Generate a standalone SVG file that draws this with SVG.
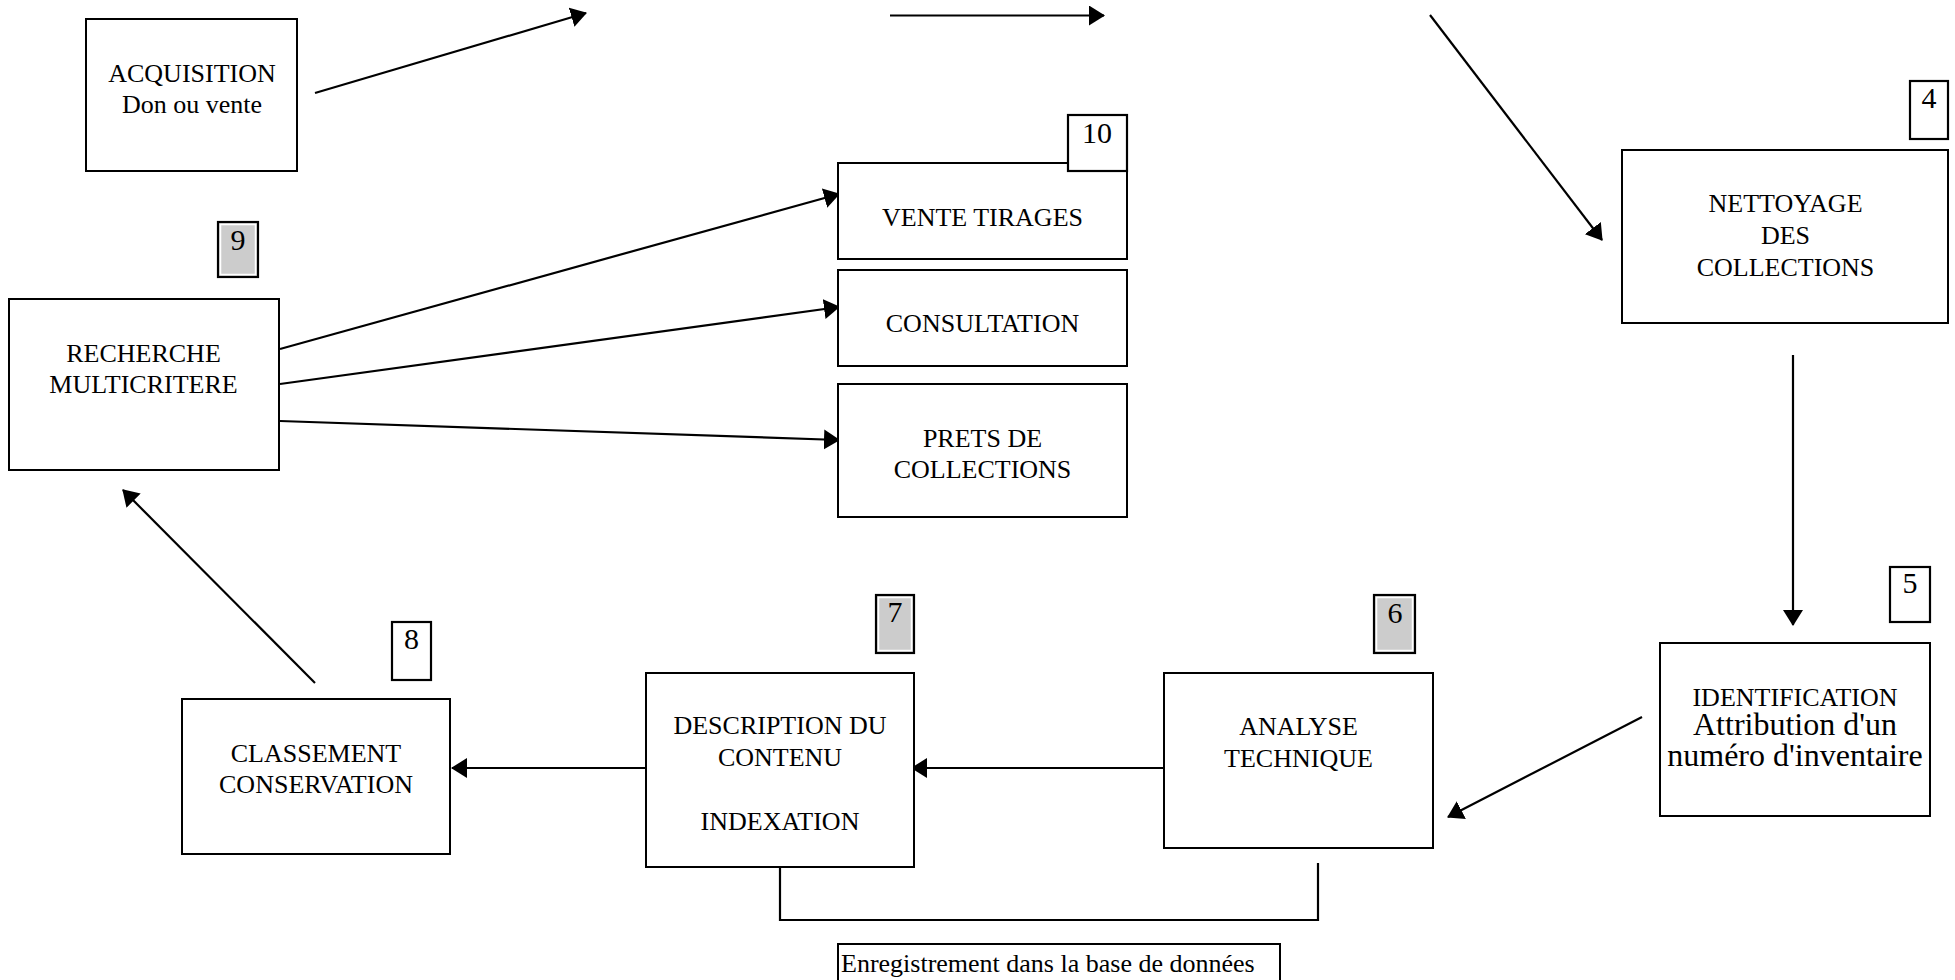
<svg xmlns="http://www.w3.org/2000/svg" width="1955" height="980" viewBox="0 0 1955 980">
  <defs>
    <style>
      .box { fill: #ffffff; stroke: #000000; stroke-width: 2; }
      .tag { fill: #ffffff; stroke: #000000; stroke-width: 2.2; }
      .tag-grey { fill: #cccccc; stroke: #000000; stroke-width: 2.2; }
      .tag-inner { fill: none; stroke: #ffffff; stroke-width: 1.5; }
      .lbl { font-family: "Liberation Serif", "Times New Roman", serif; font-size: 26px; fill: #000000; text-anchor: middle; }
      .big { font-size: 32px; }
      .num { font-family: "Liberation Serif", "Times New Roman", serif; font-size: 30px; fill: #000000; text-anchor: middle; }
      .left { text-anchor: start; }
      .link { fill: none; stroke: #000000; stroke-width: 2.2; }
      .flow { fill: none; stroke: #000000; stroke-width: 2.2; marker-end: url(#arrow); }
    </style>
    <marker id="arrow" markerUnits="userSpaceOnUse" markerWidth="16" markerHeight="20" refX="15" refY="10" orient="auto">
      <path d="M0,0 L16,10 L0,20 z" fill="#000000"/>
    </marker>
  </defs>

  <rect width="1955" height="980" fill="#ffffff"/>

  <!-- connectors -->
  <g id="connectors">
    <line class="flow" x1="315" y1="93" x2="586" y2="13"/>
    <line class="flow" x1="890" y1="15.5" x2="1104" y2="15.5"/>
    <line class="flow" x1="1430" y1="15" x2="1602" y2="240"/>
    <line class="flow" x1="1793" y1="355" x2="1793" y2="625"/>
    <line class="flow" x1="1642" y1="717" x2="1448" y2="817"/>
    <line class="flow" x1="1164" y1="768" x2="912" y2="768"/>
    <line class="flow" x1="646" y1="768" x2="452" y2="768"/>
    <line class="flow" x1="315" y1="683" x2="123" y2="490"/>
    <line class="flow" x1="280" y1="349" x2="839" y2="194"/>
    <line class="flow" x1="280" y1="384" x2="839" y2="307"/>
    <line class="flow" x1="280" y1="421" x2="839" y2="440"/>
    <polyline class="link" points="780,863 780,920 1318,920 1318,863"/>
  </g>

  <!-- 1: acquisition -->
  <g id="acquisition">
    <rect class="box" x="86" y="19" width="211" height="152"/>
    <text class="lbl" x="192" y="82">ACQUISITION</text>
    <text class="lbl" x="192" y="113">Don ou vente</text>
  </g>

  <!-- 4: cleaning -->
  <g id="nettoyage">
    <rect class="box" x="1622" y="150" width="326" height="173"/>
    <text class="lbl" x="1785.5" y="212">NETTOYAGE</text>
    <text class="lbl" x="1785.5" y="244">DES</text>
    <text class="lbl" x="1785.5" y="276">COLLECTIONS</text>
  </g>
  <g id="tag-4">
    <rect class="tag" x="1910" y="81" width="38" height="58"/>
    <text class="num" x="1929" y="108">4</text>
  </g>

  <!-- 5: identification -->
  <g id="identification">
    <rect class="box" x="1660" y="643" width="270" height="173"/>
    <text class="lbl" x="1795" y="706">IDENTIFICATION</text>
    <text class="lbl big" x="1795" y="735">Attribution d'un</text>
    <text class="lbl big" x="1795" y="766">numéro d'inventaire</text>
  </g>
  <g id="tag-5">
    <rect class="tag" x="1890" y="567" width="40" height="55"/>
    <text class="num" x="1910" y="593">5</text>
  </g>

  <!-- 6: technical analysis -->
  <g id="analyse">
    <rect class="box" x="1164" y="673" width="269" height="175"/>
    <text class="lbl" x="1298.5" y="735">ANALYSE</text>
    <text class="lbl" x="1298.5" y="767">TECHNIQUE</text>
  </g>
  <g id="tag-6">
    <rect class="tag-grey" x="1374" y="595" width="41" height="58"/>
    <rect class="tag-inner" x="1376.5" y="597.5" width="36" height="53"/>
    <text class="num" x="1395" y="623">6</text>
  </g>

  <!-- 7: content description -->
  <g id="description">
    <rect class="box" x="646" y="673" width="268" height="194"/>
    <text class="lbl" x="780" y="734">DESCRIPTION DU</text>
    <text class="lbl" x="780" y="766">CONTENU</text>
    <text class="lbl" x="780" y="830">INDEXATION</text>
  </g>
  <g id="tag-7">
    <rect class="tag-grey" x="876" y="595" width="38" height="58"/>
    <rect class="tag-inner" x="878.5" y="597.5" width="33" height="53"/>
    <text class="num" x="895" y="622">7</text>
  </g>

  <!-- 8: storage -->
  <g id="classement">
    <rect class="box" x="182" y="699" width="268" height="155"/>
    <text class="lbl" x="316" y="762">CLASSEMENT</text>
    <text class="lbl" x="316" y="793">CONSERVATION</text>
  </g>
  <g id="tag-8">
    <rect class="tag" x="392" y="622" width="39" height="58"/>
    <text class="num" x="411.5" y="649">8</text>
  </g>

  <!-- 9: search -->
  <g id="recherche">
    <rect class="box" x="9" y="299" width="270" height="171"/>
    <text class="lbl" x="143.5" y="362">RECHERCHE</text>
    <text class="lbl" x="143.5" y="393">MULTICRITERE</text>
  </g>
  <g id="tag-9">
    <rect class="tag-grey" x="218" y="222" width="40" height="55"/>
    <rect class="tag-inner" x="220.5" y="224.5" width="35" height="50"/>
    <text class="num" x="238" y="250">9</text>
  </g>

  <!-- 10: uses -->
  <g id="vente">
    <rect class="box" x="838" y="163" width="289" height="96"/>
    <text class="lbl" x="982.5" y="226">VENTE TIRAGES</text>
  </g>
  <g id="consultation">
    <rect class="box" x="838" y="270" width="289" height="96"/>
    <text class="lbl" x="982.5" y="332">CONSULTATION</text>
  </g>
  <g id="prets">
    <rect class="box" x="838" y="384" width="289" height="133"/>
    <text class="lbl" x="982.5" y="447">PRETS  DE</text>
    <text class="lbl" x="982.5" y="478">COLLECTIONS</text>
  </g>
  <g id="tag-10">
    <rect class="tag" x="1068" y="115" width="59" height="56"/>
    <text class="num" x="1097" y="143">10</text>
  </g>

  <!-- database note -->
  <g id="enregistrement">
    <rect class="box" x="838" y="944" width="442" height="44"/>
    <text class="lbl left" x="841" y="972">Enregistrement dans la base de données</text>
  </g>
</svg>
